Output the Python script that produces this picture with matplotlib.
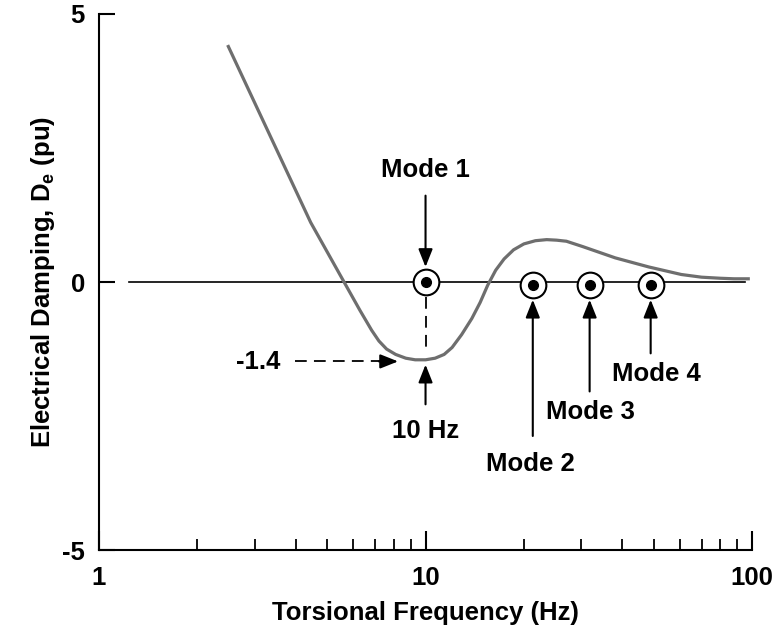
import matplotlib
matplotlib.use("Agg")
import matplotlib.pyplot as plt
from matplotlib.ticker import FixedLocator, NullFormatter, LogLocator

plt.rcParams['font.family'] = ['Liberation Sans', 'DejaVu Sans']
plt.rcParams['font.weight'] = 'bold'
plt.rcParams['mathtext.fontset'] = 'custom'
plt.rcParams['mathtext.rm'] = 'Liberation Sans:bold'
plt.rcParams['mathtext.bf'] = 'Liberation Sans:bold'
plt.rcParams['mathtext.it'] = 'Liberation Sans:bold'

# Electrical damping versus torsional frequency
freq = [2.49, 4.45, 5.63, 6.3, 6.84, 7.2, 7.6, 8.1, 8.7, 9.3, 10.0, 10.7,
        11.4, 12.06, 12.9, 13.86, 14.7, 15.5, 16.4, 17.4, 18.6, 20.0, 21.7,
        23.5, 25.2, 27.0, 30.3, 38.1, 48.3, 60.7, 70.0, 80.0, 88.0, 97.3]
damping = [4.39, 1.11, 0.0, -0.53, -0.90, -1.10, -1.25, -1.35, -1.42, -1.45,
           -1.45, -1.42, -1.35, -1.22, -0.98, -0.68, -0.38, -0.06, 0.22, 0.43,
           0.60, 0.71, 0.77, 0.79, 0.78, 0.76, 0.66, 0.45, 0.28, 0.14, 0.09,
           0.07, 0.06, 0.06]

# Torsional modes of the shaft
mode_labels = ['Mode 1', 'Mode 2', 'Mode 3', 'Mode 4']
mode_freqs = [10.0, 21.3, 31.8, 48.9]
mode_damping = [0.0, -0.05, -0.05, -0.05]

min_label = '-1.4'
min_freq = 10.0
min_damping = -1.45

x_ticks = [1, 10, 100]
x_ticklabels = ['1', '10', '100']
y_ticks = [-5, 0, 5]
y_ticklabels = ['-5', '0', '5']

FS = 18.5

fig = plt.figure(figsize=(7.73, 6.26), dpi=100)
ax = fig.add_axes([0.128, 0.121, 0.845, 0.857])

ax.set_xscale('log')
ax.set_xlim(1, 100)
ax.set_ylim(-5, 5)

# zero reference line
ax.plot([1.24, 95], [0, 0], color='black', lw=1.2, zorder=2)

# damping curve
ax.plot(freq, damping, color='#6e6e6e', lw=2.3, zorder=3,
        solid_joinstyle='round')

# mode markers
ax.plot(mode_freqs, mode_damping, 'o', ms=18.5, mfc='white', mec='black',
        mew=1.5, zorder=5)
ax.plot(mode_freqs, mode_damping, 'o', ms=7, mfc='black', mec='black', zorder=6)

head = '-|>,head_length=10.8,head_width=4.3'
arrow_kw = dict(arrowstyle=head, color='black', lw=1.5, shrinkA=0, shrinkB=0,
                mutation_scale=1)


def arrow(x0, y0, x1, y1):
    ax.annotate('', xy=(x1, y1), xytext=(x0, y0), arrowprops=arrow_kw,
                zorder=7, annotation_clip=False)


# Mode 1 pointer from above
ax.text(mode_freqs[0], 2.09, mode_labels[0], ha='center', va='center',
        fontsize=FS, fontweight='bold')
arrow(mode_freqs[0], 1.61, mode_freqs[0], 0.28)

# dashed drop from Mode 1 to the damping minimum
ax.plot([min_freq, min_freq], [-0.28, -1.30], color='black', lw=1.3,
        dashes=(6.5, 4), zorder=4)

# 10 Hz pointer from below
arrow(min_freq, -2.28, min_freq, -1.54)
ax.text(min_freq, -2.78, '10 Hz', ha='center', va='center', fontsize=FS,
        fontweight='bold')

# -1.4 minimum value pointer
ax.text(3.08, -1.5, min_label, ha='center', va='center', fontsize=FS,
        fontweight='bold')
ax.plot([3.97, 7.6], [-1.48, -1.48], color='black', lw=1.3,
        dashes=(6.5, 4), zorder=4)
arrow(7.2, -1.48, 8.24, -1.48)

# Modes 2-4 pointers from below
arrow_starts = [-2.87, -2.04, -1.33]
label_y = [-3.39, -2.43, -1.72]
label_x = [21.0, 32.0, 51.0]
for f, y0, ly, lx, lab in zip(mode_freqs[1:], arrow_starts, label_y, label_x,
                              mode_labels[1:]):
    arrow(f, y0, f, -0.33)
    ax.text(lx, ly, lab, ha='center', va='center', fontsize=FS,
            fontweight='bold')

# axes styling
for side in ['top', 'right']:
    ax.spines[side].set_visible(False)
for side in ['left', 'bottom']:
    ax.spines[side].set_linewidth(1.5)

ax.xaxis.set_major_locator(FixedLocator(x_ticks))
ax.set_xticklabels(x_ticklabels)
ax.xaxis.set_minor_locator(LogLocator(base=10, subs=range(2, 10)))
ax.xaxis.set_minor_formatter(NullFormatter())
ax.set_yticks(y_ticks)
ax.set_yticklabels(y_ticklabels)

ax.tick_params(axis='x', which='major', direction='in', length=13.5, width=1.5,
               pad=11, labelsize=FS)
ax.tick_params(axis='x', which='minor', direction='in', length=8, width=1.3)
ax.tick_params(axis='y', which='major', direction='in', length=11.5, width=1.5,
               pad=10, labelsize=FS)
for lab in ax.get_xticklabels() + ax.get_yticklabels():
    lab.set_fontweight('bold')

ax.set_xlabel('Torsional Frequency (Hz)', fontsize=FS, fontweight='bold',
              labelpad=8)
ax.set_ylabel(r'Electrical Damping, D$_{\mathbf{e}}$ (pu)', fontsize=FS,
              fontweight='bold', labelpad=4)

fig.savefig('out.png', dpi=100)
